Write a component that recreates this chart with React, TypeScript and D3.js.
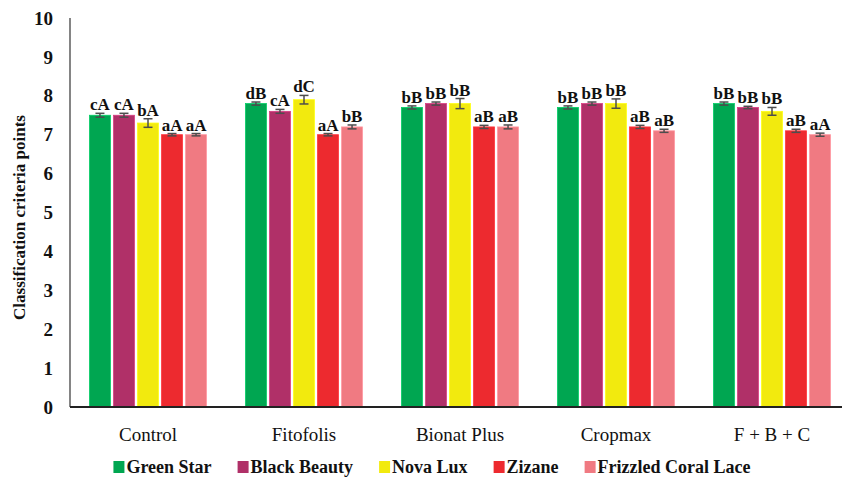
import React, { useEffect, useRef } from "react";
import * as d3 from "d3";

const categories = ["Control", "Fitofolis", "Bionat Plus", "Cropmax", "F + B + C"];
const seriesNames = ["Green Star", "Black Beauty", "Nova Lux", "Zizane", "Frizzled Coral Lace"];
const seriesColors = ["#00A651", "#B03068", "#F2EA0E", "#ED2A2F", "#F07A82"];
// values[series][category]
const greenStar = [7.5, 7.8, 7.7, 7.7, 7.8];
const blackBeauty = [7.5, 7.6, 7.8, 7.8, 7.7];
const novaLux = [7.3, 7.9, 7.8, 7.8, 7.6];
const zizane = [7.0, 7.0, 7.2, 7.2, 7.1];
const frizzled = [7.0, 7.2, 7.2, 7.1, 7.0];
const errGreenStar = [0.05, 0.04, 0.04, 0.04, 0.04];
const errBlackBeauty = [0.05, 0.05, 0.04, 0.04, 0.03];
const errNovaLux = [0.11, 0.11, 0.13, 0.12, 0.1];
const errZizane = [0.03, 0.03, 0.04, 0.04, 0.04];
const errFrizzled = [0.03, 0.05, 0.05, 0.04, 0.04];
const lettersGreenStar = ["cA", "dB", "bB", "bB", "bB"];
const lettersBlackBeauty = ["cA", "cA", "bB", "bB", "bB"];
const lettersNovaLux = ["bA", "dC", "bB", "bB", "bB"];
const lettersZizane = ["aA", "aA", "aB", "aB", "aB"];
const lettersFrizzled = ["aA", "bB", "aB", "aB", "aA"];
const yTicks = [0, 1, 2, 3, 4, 5, 6, 7, 8, 9, 10];

const values = [greenStar, blackBeauty, novaLux, zizane, frizzled];
const errors = [errGreenStar, errBlackBeauty, errNovaLux, errZizane, errFrizzled];
const letters = [lettersGreenStar, lettersBlackBeauty, lettersNovaLux, lettersZizane, lettersFrizzled];

const W = 854;
const H = 478;
const FONT = "'Liberation Serif', 'DejaVu Serif', serif";

export default function App() {
  const ref = useRef<SVGSVGElement | null>(null);

  useEffect(() => {
    const svg = d3.select(ref.current);
    svg.selectAll("*").remove();

    const left = 70, right = 850, top = 18, bottom = 407;
    const y = d3.scaleLinear().domain([0, 10]).range([bottom, top]);
    const x0 = d3.scaleBand().domain(categories).range([left, right]).paddingInner(0.25).paddingOuter(0.125);
    const x1 = d3.scaleBand().domain(seriesNames).range([0, x0.bandwidth()]).paddingInner(0.13);

    // y tick labels
    svg.append("g")
      .selectAll("text")
      .data(yTicks)
      .join("text")
      .attr("x", 53)
      .attr("y", (d) => y(d))
      .attr("dy", "0.35em")
      .attr("text-anchor", "end")
      .attr("font-family", FONT)
      .attr("font-weight", "bold")
      .attr("font-size", 19)
      .attr("fill", "#111")
      .text((d) => d);

    // y axis title
    svg.append("text")
      .attr("transform", `translate(25,${(top + bottom) / 2 + 5}) rotate(-90)`)
      .attr("text-anchor", "middle")
      .attr("font-family", FONT)
      .attr("font-weight", "bold")
      .attr("font-size", 17)
      .attr("fill", "#111")
      .text("Classification criteria points");

    // bars
    const groups = svg.append("g")
      .selectAll("g")
      .data(categories)
      .join("g")
      .attr("transform", (d) => `translate(${x0(d)},0)`);

    groups.each(function (cat, ci) {
      const g = d3.select(this);
      seriesNames.forEach((s, si) => {
        const v = values[si][ci];
        const e = errors[si][ci];
        const bx = x1(s)!;
        const bw = x1.bandwidth();
        g.append("rect")
          .attr("x", bx)
          .attr("y", y(v))
          .attr("width", bw)
          .attr("height", y(0) - y(v))
          .attr("fill", seriesColors[si])
          .attr("stroke", d3.color(seriesColors[si])!.brighter(0.6).formatHex())
          .attr("stroke-width", 0.8);
        const cx = bx + bw / 2;
        const eg = g.append("g").attr("stroke", "#4d4d4d").attr("stroke-width", 1.5);
        eg.append("line").attr("x1", cx).attr("x2", cx).attr("y1", y(v + e)).attr("y2", y(v - e));
        eg.append("line").attr("x1", cx - 4.5).attr("x2", cx + 4.5).attr("y1", y(v + e)).attr("y2", y(v + e));
        eg.append("line").attr("x1", cx - 4.5).attr("x2", cx + 4.5).attr("y1", y(v - e)).attr("y2", y(v - e));
        g.append("text")
          .attr("x", cx)
          .attr("y", y(v + e) - 3)
          .attr("text-anchor", "middle")
          .attr("font-family", FONT)
          .attr("font-weight", "bold")
          .attr("font-size", 17)
          .attr("fill", "#111")
          .text(letters[si][ci]);
      });
    });

    // axes lines
    svg.append("line")
      .attr("x1", left).attr("x2", left).attr("y1", top).attr("y2", bottom)
      .attr("stroke", "#333").attr("stroke-width", 1.2);
    svg.append("line")
      .attr("x1", left).attr("x2", 842).attr("y1", bottom).attr("y2", bottom)
      .attr("stroke", "#222").attr("stroke-width", 2);

    // category labels
    svg.append("g")
      .selectAll("text")
      .data(categories)
      .join("text")
      .attr("x", (d) => x0(d)! + x0.bandwidth() / 2)
      .attr("y", 434)
      .attr("dy", "0.35em")
      .attr("text-anchor", "middle")
      .attr("font-family", FONT)
      .attr("font-size", 19)
      .attr("fill", "#111")
      .text((d) => d);

    // legend
    const lg = svg.append("g");
    const items = seriesNames.map((s, i) => {
      const it = lg.append("g");
      it.append("rect").attr("x", 0).attr("y", -6).attr("width", 11).attr("height", 12).attr("fill", seriesColors[i]);
      const t = it.append("text")
        .attr("x", 13)
        .attr("y", 0)
        .attr("dy", "0.35em")
        .attr("font-family", FONT)
        .attr("font-weight", "bold")
        .attr("font-size", 18)
        .attr("fill", "#111")
        .text(s);
      const w = 13 + (t.node() as SVGTextElement).getComputedTextLength();
      return { it, w };
    });
    const gap = 26;
    const total = d3.sum(items, (d) => d.w) + gap * (items.length - 1);
    let cx = 432 - total / 2;
    items.forEach(({ it, w }) => {
      it.attr("transform", `translate(${cx},467)`);
      cx += w + gap;
    });
  }, []);

  return (
    <svg
      ref={ref}
      width={W}
      height={H}
      style={{ position: "absolute", left: 0, top: 0, background: "#fff" }}
    />
  );
}
